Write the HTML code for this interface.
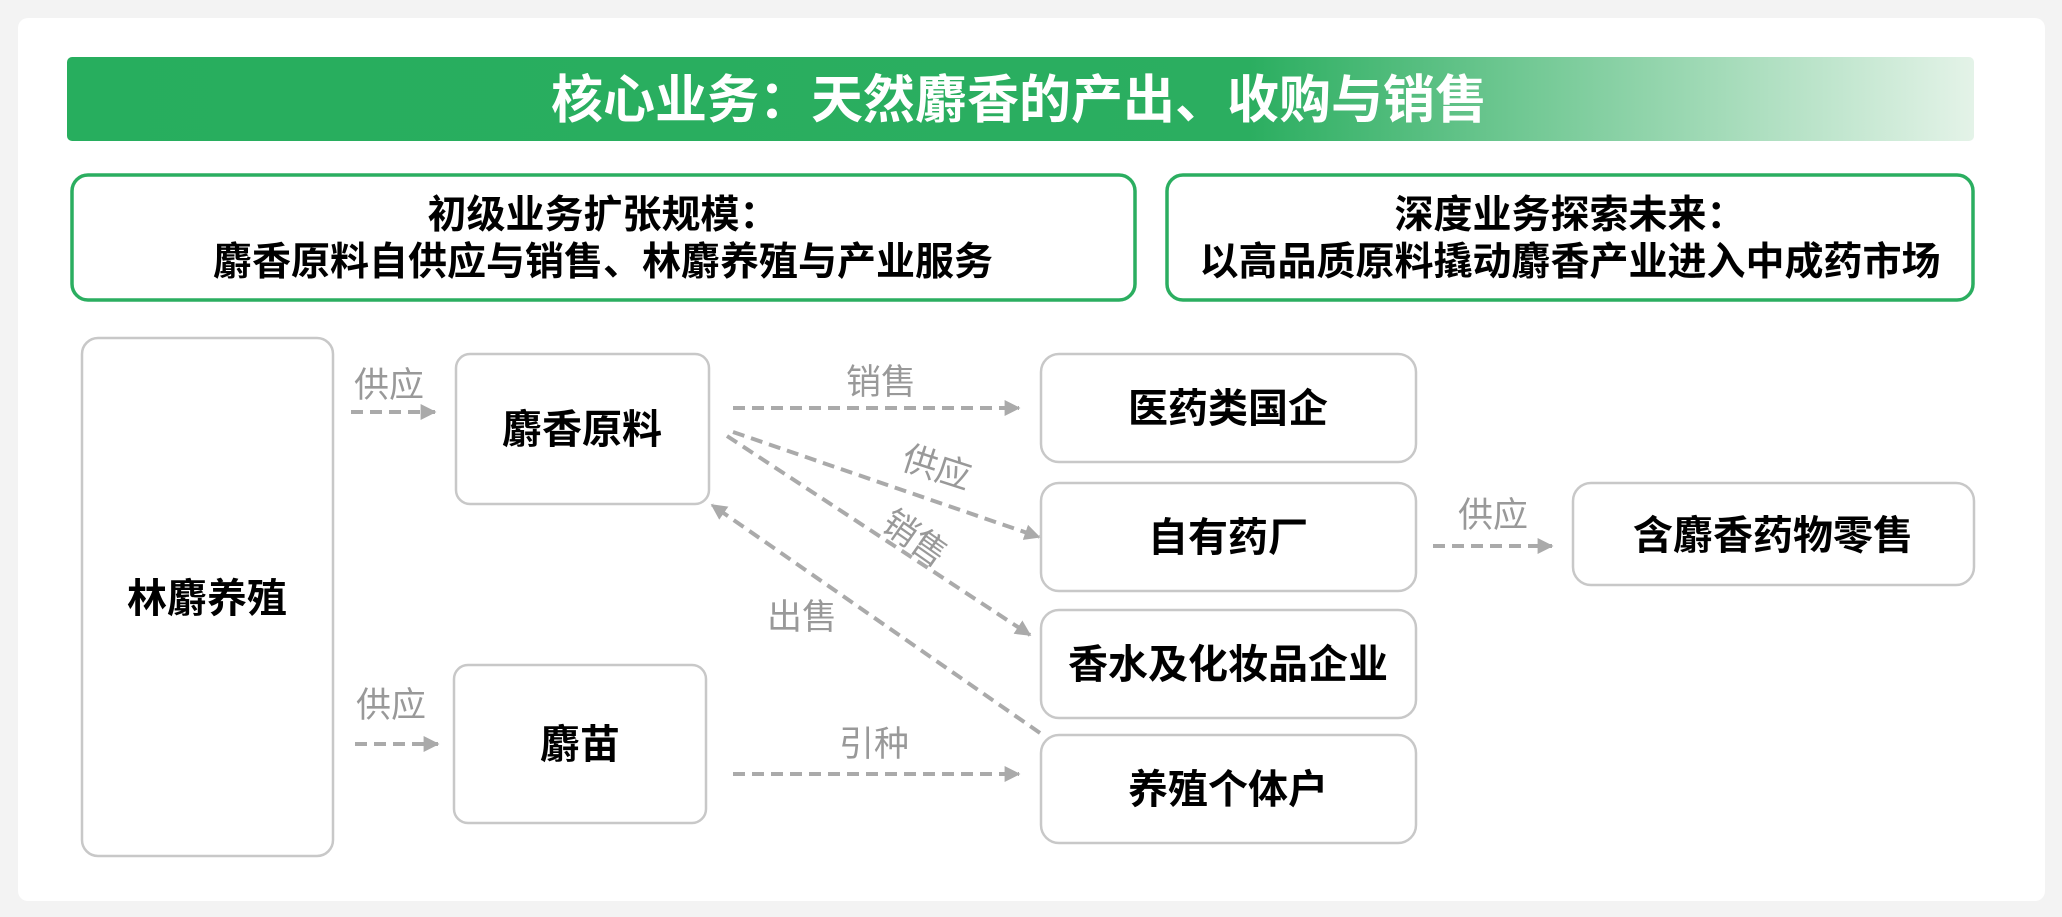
<!DOCTYPE html>
<html><head><meta charset="utf-8">
<style>
html,body{margin:0;padding:0;background:#f3f3f3;}
body{width:2062px;height:917px;overflow:hidden;}
svg{display:block;}
text{font-family:"Liberation Sans","Noto Sans CJK SC",sans-serif;}
.b{font-weight:bold;fill:#000;}
.l{fill:#999;font-size:35px;}
.n{fill:#fff;stroke:#c8c8c8;stroke-width:2.5;}
.d{stroke:#aaa;stroke-width:4;stroke-dasharray:12 7;fill:none;}
</style></head><body>
<svg width="2062" height="917" viewBox="0 0 2062 917">
<defs>
<linearGradient id="g" x1="0" x2="1" y1="0" y2="0">
<stop offset="0" stop-color="#27ae5e"/>
<stop offset="0.62" stop-color="#2bae60"/>
<stop offset="1" stop-color="#e4f3e8"/>
</linearGradient>
<marker id="ar" viewBox="0 0 10 10" refX="9" refY="5" markerWidth="16" markerHeight="16" markerUnits="userSpaceOnUse" orient="auto">
<path d="M0,0 L10,5 L0,10 z" fill="#aaa"/>
</marker>
</defs>
<rect x="18" y="18" width="2027" height="883" rx="10" fill="#fff"/>
<rect x="67" y="57" width="1907" height="84" rx="5" fill="url(#g)"/>
<text x="1019" y="118" text-anchor="middle" font-size="52" font-weight="bold" fill="#fff">核心业务：天然麝香的产出、收购与销售</text>

<rect x="72" y="175" width="1063" height="125" rx="16" fill="#fff" stroke="#2bae60" stroke-width="3.5"/>
<text x="603" y="228" text-anchor="middle" font-size="39" class="b">初级业务扩张规模：</text>
<text x="603" y="275" text-anchor="middle" font-size="39" class="b">麝香原料自供应与销售、林麝养殖与产业服务</text>
<rect x="1167" y="175" width="806" height="125" rx="16" fill="#fff" stroke="#2bae60" stroke-width="3.5"/>
<text x="1570" y="228" text-anchor="middle" font-size="39" class="b">深度业务探索未来：</text>
<text x="1570" y="275" text-anchor="middle" font-size="39" class="b">以高品质原料撬动麝香产业进入中成药市场</text>

<rect class="n" x="82" y="338" width="251" height="518" rx="16"/>
<text x="207" y="612" text-anchor="middle" font-size="40" class="b">林麝养殖</text>
<rect class="n" x="456" y="354" width="253" height="150" rx="14"/>
<text x="582" y="443" text-anchor="middle" font-size="40" class="b">麝香原料</text>
<rect class="n" x="454" y="665" width="252" height="158" rx="14"/>
<text x="580" y="758" text-anchor="middle" font-size="40" class="b">麝苗</text>
<rect class="n" x="1041" y="354" width="375" height="108" rx="18"/>
<text x="1228" y="422" text-anchor="middle" font-size="40" class="b">医药类国企</text>
<rect class="n" x="1041" y="483" width="375" height="108" rx="18"/>
<text x="1228" y="551" text-anchor="middle" font-size="40" class="b">自有药厂</text>
<rect class="n" x="1041" y="610" width="375" height="108" rx="18"/>
<text x="1228" y="678" text-anchor="middle" font-size="40" class="b">香水及化妆品企业</text>
<rect class="n" x="1041" y="735" width="375" height="108" rx="18"/>
<text x="1228" y="803" text-anchor="middle" font-size="40" class="b">养殖个体户</text>
<rect class="n" x="1573" y="483" width="401" height="102" rx="18"/>
<text x="1773" y="549" text-anchor="middle" font-size="40" class="b">含麝香药物零售</text>

<line class="d" x1="351" y1="412" x2="435" y2="412" marker-end="url(#ar)"/>
<text class="l" x="389" y="397" text-anchor="middle">供应</text>
<line class="d" x1="355" y1="744" x2="438" y2="744" marker-end="url(#ar)"/>
<text class="l" x="391" y="717" text-anchor="middle">供应</text>
<line class="d" x1="733" y1="408" x2="1019" y2="408" marker-end="url(#ar)"/>
<text class="l" x="881" y="394" text-anchor="middle">销售</text>
<line class="d" x1="733" y1="432" x2="1039" y2="537" marker-end="url(#ar)"/>
<text class="l" transform="translate(933,479) rotate(18)" text-anchor="middle">供应</text>
<line class="d" x1="727" y1="436" x2="1030" y2="635" marker-end="url(#ar)"/>
<text class="l" transform="translate(908,548) rotate(35)" text-anchor="middle">销售</text>
<line class="d" x1="1040" y1="733" x2="712" y2="505" marker-end="url(#ar)"/>
<text class="l" x="802" y="629" text-anchor="middle">出售</text>
<line class="d" x1="733" y1="774" x2="1019" y2="774" marker-end="url(#ar)"/>
<text class="l" x="874" y="756" text-anchor="middle">引种</text>
<line class="d" x1="1433" y1="546" x2="1552" y2="546" marker-end="url(#ar)"/>
<text class="l" x="1493" y="527" text-anchor="middle">供应</text>
</svg>
</body></html>
